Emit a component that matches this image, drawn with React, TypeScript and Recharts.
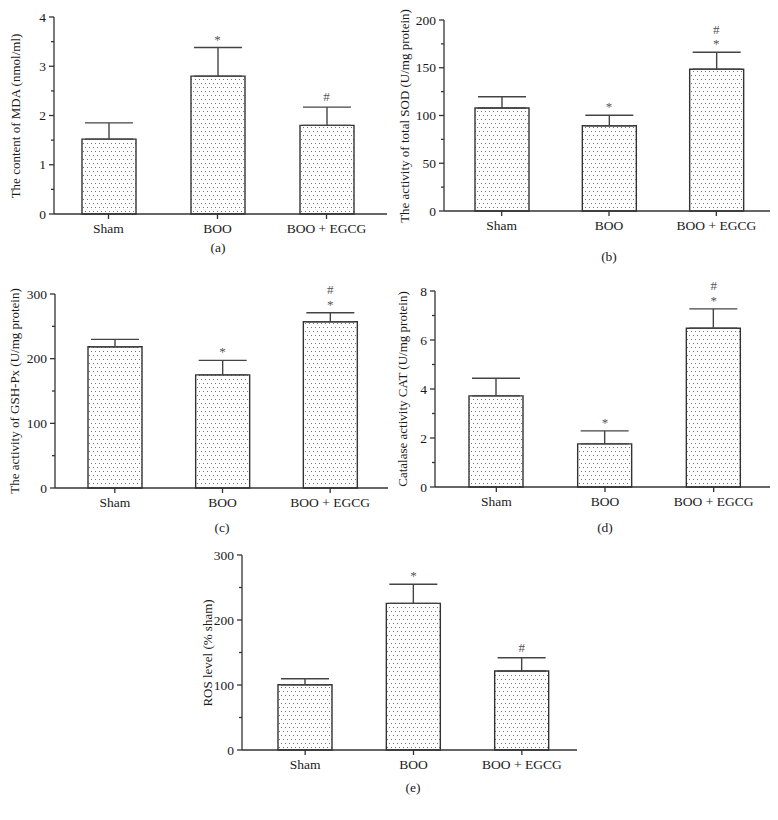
import React from "react";
import { ComposedChart, Bar, Line, XAxis, YAxis, ErrorBar, LabelList } from "recharts";

const categories = ["Sham", "BOO", "BOO + EGCG"];

const mdaMean = [1.52, 2.8, 1.8];
const mdaErr = [0.33, 0.58, 0.37];
const mdaMarks = [[], ["*"], ["#"]];
const mdaTicks = [0, 1, 2, 3, 4];
const mdaMinor = [0.5, 1.5, 2.5, 3.5];

const sodMean = [107.8, 89.3, 148.4];
const sodErr = [11.9, 10.9, 17.8];
const sodMarks = [[], ["*"], ["*", "#"]];
const sodTicks = [0, 50, 100, 150, 200];
const sodMinor = [25, 75, 125, 175];

const gshMean = [218.4, 175, 257.1];
const gshErr = [11.4, 22.3, 13.9];
const gshMarks = [[], ["*"], ["*", "#"]];
const gshTicks = [0, 100, 200, 300];
const gshMinor = [50, 150, 250];

const catMean = [3.72, 1.76, 6.48];
const catErr = [0.72, 0.53, 0.79];
const catMarks = [[], ["*"], ["*", "#"]];
const catTicks = [0, 2, 4, 6, 8];
const catMinor = [1, 3, 5, 7];

const rosMean = [100.5, 225.6, 121.5];
const rosErr = [9.2, 29.3, 20.5];
const rosMarks = [[], ["*"], ["#"]];
const rosTicks = [0, 100, 200, 300];
const rosMinor = [50, 150, 250];

const FONT = "'Liberation Serif', 'Times New Roman', serif";
const AXIS = "#333";
const TEXT = "#1a1a1a";
const HEAD = 14;

type PanelProps = {
  mean: number[];
  err: number[];
  marks: string[][];
  ticks: number[];
  minor: number[];
  yLabel: string;
  caption: string;
  left: number;
  top: number;
  width: number;
  height: number;
  margin: { top: number; right: number; bottom: number; left: number };
  yWidth: number;
  pad: { left: number; right: number };
  labelX: number;
  captionX: number;
  captionY: number;
};

function Panel(p: PanelProps) {
  const data = categories.map((c, i) => ({
    name: c,
    mean: p.mean[i],
    err: [0, p.err[i]],
    top: p.mean[i] + p.err[i],
  }));
  const axisX = p.margin.left + p.yWidth;
  const allTicks = [...p.ticks, ...p.minor].sort((a, b) => a - b);
  const yTick = (props: any) => {
    const { y, payload } = props;
    const v = payload.value;
    const major = p.ticks.includes(v);
    return (
      <g>
        <line x1={axisX - (major ? 5 : 3)} x2={axisX} y1={y} y2={y} stroke={AXIS} strokeWidth={1.3} />
        {major && (
          <text x={axisX - 8} y={y} dy={4.5} textAnchor="end" fontSize={13.5} fill={TEXT} fontFamily={FONT}>
            {v}
          </text>
        )}
      </g>
    );
  };
  const markContent = (props: any) => {
    const { x, y, index } = props;
    const ms = p.marks[index] || [];
    return (
      <g>
        {ms.map((m, k) => {
          const c = y - 10 - 13 * k;
          const base = c + (m === "*" ? 6 : 4.3);
          return (
            <text key={k} x={x} y={base} textAnchor="middle" fontSize={13} fill="#555" fontFamily={FONT}>
              {m}
            </text>
          );
        })}
      </g>
    );
  };
  const H = p.height + HEAD;
  const margin = { ...p.margin, top: p.margin.top + HEAD };
  const plotTop = margin.top;
  const plotBottom = H - margin.bottom - 30;
  const labelY = (plotTop + plotBottom) / 2;
  return (
    <div style={{ position: "absolute", left: p.left, top: p.top - HEAD, width: p.width, height: H }}>
      <ComposedChart width={p.width} height={H} data={data} margin={margin}>
        <XAxis
          dataKey="name"
          tickSize={5}
          tickMargin={4}
          height={30}
          padding={p.pad}
          axisLine={{ stroke: AXIS, strokeWidth: 1.3 }}
          tickLine={{ stroke: AXIS, strokeWidth: 1.3 }}
          tick={{ fontSize: 13.5, fill: TEXT, fontFamily: FONT }}
          interval={0}
        />
        <YAxis
          width={p.yWidth}
          domain={[p.ticks[0], p.ticks[p.ticks.length - 1]]}
          ticks={allTicks}
          interval={0}
          tickLine={false}
          axisLine={{ stroke: AXIS, strokeWidth: 1.3 }}
          tick={yTick}
        />
        <Bar dataKey="mean" barSize={54} fill="url(#dotfill)" stroke="#333" strokeWidth={1.4} isAnimationActive={false}>
          <ErrorBar dataKey="err" width={24} stroke="#444" strokeWidth={1.4} direction="y" />
        </Bar>
        <Line dataKey="top" stroke="none" dot={false} activeDot={false} isAnimationActive={false}>
          <LabelList dataKey="top" content={markContent} />
        </Line>
      </ComposedChart>
      <div
        style={{
          position: "absolute",
          left: p.labelX,
          top: labelY,
          transform: "translate(-50%, -50%) rotate(-90deg)",
          whiteSpace: "nowrap",
          fontFamily: FONT,
          fontSize: 13,
          color: TEXT,
          lineHeight: "14px",
        }}
      >
        {p.yLabel}
      </div>
      <div
        style={{
          position: "absolute",
          left: p.captionX,
          top: p.captionY + HEAD,
          transform: "translate(-50%, -50%)",
          whiteSpace: "nowrap",
          fontFamily: FONT,
          fontSize: 13.5,
          color: TEXT,
        }}
      >
        {p.caption}
      </div>
    </div>
  );
}

export default function App() {
  return (
    <div style={{ position: "absolute", left: 0, top: 0, width: 778, height: 820, background: "#fff", overflow: "hidden" }}>
      <svg width={0} height={0} style={{ position: "absolute" }}>
        <defs>
          <pattern id="dotfill" width={8} height={8} patternUnits="userSpaceOnUse">
            <rect width={8} height={8} fill="#fff" />
            <rect x={1} y={1} width={1} height={1} fill="#777" />
            <rect x={5} y={1} width={1} height={1} fill="#777" />
            <rect x={3} y={5} width={1} height={1} fill="#777" />
            <rect x={7} y={5} width={1} height={1} fill="#777" />
          </pattern>
        </defs>
      </svg>
      <Panel
        mean={mdaMean} err={mdaErr} marks={mdaMarks} ticks={mdaTicks} minor={mdaMinor}
        yLabel="The content of MDA (nmol/ml)" caption="(a)"
        left={0} top={0} width={390} height={262}
        margin={{ top: 17, right: 3, bottom: 18, left: 0 }} yWidth={54}
        pad={{ left: 0, right: 6 }} labelX={16} captionX={218} captionY={248}
      />
      <Panel
        mean={sodMean} err={sodErr} marks={sodMarks} ticks={sodTicks} minor={sodMinor}
        yLabel="The activity of total SOD (U/mg protein)" caption="(b)"
        left={390} top={0} width={388} height={262}
        margin={{ top: 20, right: 8, bottom: 21, left: 0 }} yWidth={54}
        pad={{ left: 4, right: 0 }} labelX={15} captionX={219} captionY={257}
      />
      <Panel
        mean={gshMean} err={gshErr} marks={gshMarks} ticks={gshTicks} minor={gshMinor}
        yLabel="The activity of GSH-Px (U/mg protein)" caption="(c)"
        left={0} top={280} width={390} height={262}
        margin={{ top: 14, right: 2, bottom: 24, left: 0 }} yWidth={55}
        pad={{ left: 6, right: 4 }} labelX={15} captionX={222} captionY={248}
      />
      <Panel
        mean={catMean} err={catErr} marks={catMarks} ticks={catTicks} minor={catMinor}
        yLabel="Catalase activity CAT (U/mg protein)" caption="(d)"
        left={390} top={280} width={388} height={262}
        margin={{ top: 11, right: 8, bottom: 25, left: 0 }} yWidth={45}
        pad={{ left: 7, right: 2 }} labelX={13} captionX={215} captionY={248}
      />
      <Panel
        mean={rosMean} err={rosErr} marks={rosMarks} ticks={rosTicks} minor={rosMinor}
        yLabel="ROS level (% sham)" caption="(e)"
        left={200} top={540} width={380} height={262}
        margin={{ top: 15, right: 3, bottom: 22, left: 0 }} yWidth={42}
        pad={{ left: 9, right: 1 }} labelX={8} captionX={213} captionY={248}
      />
    </div>
  );
}
